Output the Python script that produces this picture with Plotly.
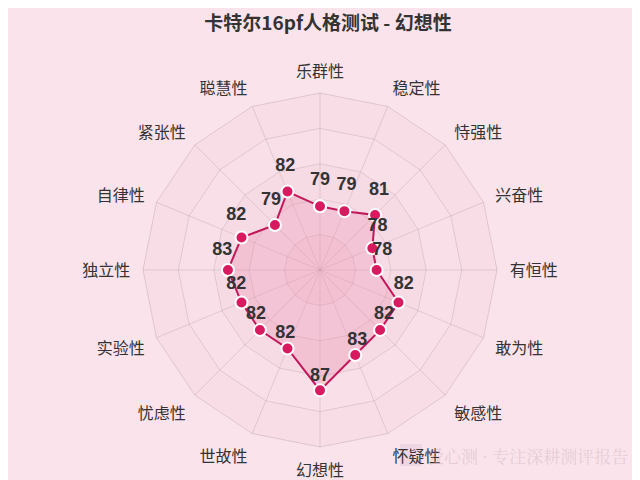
import plotly.graph_objects as go

categories = ["乐群性", "稳定性", "恃强性", "兴奋性", "有恒性", "敢为性", "敏感性", "怀疑性",
              "幻想性", "世故性", "忧虑性", "实验性", "独立性", "自律性", "紧张性", "聪慧性"]
values = [79, 79, 81, 78, 78, 82, 82, 83, 87, 82, 82, 82, 83, 82, 79, 82]
radial_range = [70, 95]
ring_values = [75, 80, 85, 90, 95]
title_text = "卡特尔16pf人格测试 - 幻想性"
watermark = "爱心测 · 专注深耕测评报告"

bg = "#fae3ea"
line_color = "#c2185b"
grid_color = "rgba(160,135,145,0.30)"
font_family = "Noto Sans CJK SC, Noto Sans, sans-serif"
label_lift = 0.8  # small radial push of the value labels, in axis units

fig = go.Figure()

theta_closed = categories + [categories[0]]

# alternating split-area bands (outermost first)
band_colors = ["rgba(235,175,198,0.10)", "rgba(255,255,255,0.08)"]
for i, rv in reversed(list(enumerate(ring_values))):
    fig.add_trace(go.Scatterpolar(
        r=[rv] * len(theta_closed), theta=theta_closed, mode="lines", line=dict(width=0),
        fill="toself", fillcolor=band_colors[i % 2], hoverinfo="skip", showlegend=False))

fig.add_trace(go.Scatterpolar(
    r=values + [values[0]],
    theta=theta_closed,
    mode="lines+markers",
    line=dict(color=line_color, width=2),
    marker=dict(size=12, color="#d81b60", line=dict(color="white", width=2)),
    fill="toself",
    fillcolor="rgba(228,100,145,0.20)",
    showlegend=False,
))

# value labels (invisible marker to lift the text above the point)
fig.add_trace(go.Scatterpolar(
    r=[v + label_lift for v in values], theta=categories,
    mode="markers+text",
    text=[str(v) for v in values],
    textposition="top center",
    textfont=dict(size=18, color="#333333", family="Liberation Sans, Arial, sans-serif", weight="bold"),
    marker=dict(size=16, color="rgba(0,0,0,0)"),
    hoverinfo="skip", showlegend=False, cliponaxis=False,
))

fig.update_layout(
    width=640, height=480,
    paper_bgcolor=bg, plot_bgcolor=bg,
    margin=dict(l=0, r=0, t=0, b=0),
    title=dict(text=title_text, x=0.5, xanchor="center", y=0.968, yref="container", yanchor="middle",
               font=dict(size=19, color="#333333", family=font_family, weight="bold")),
    font=dict(family=font_family),
    polar=dict(
        bgcolor=bg,
        domain=dict(x=[0.2109, 0.7641], y=[0.0854, 0.8229]),
        gridshape="linear",
        radialaxis=dict(range=radial_range, tickvals=ring_values, showticklabels=False,
                        ticks="", showline=False, gridcolor=grid_color, gridwidth=1),
        angularaxis=dict(direction="clockwise", rotation=90,
                         tickfont=dict(size=16, color="#333333", family=font_family),
                         ticks="outside", ticklen=9, tickcolor="rgba(0,0,0,0)",
                         showline=True, linecolor=grid_color, linewidth=1,
                         gridcolor=grid_color, gridwidth=1),
    ),
    shapes=[dict(type="rect", xref="paper", yref="paper", x0=392/640, x1=414/640,
                 y0=1 - 458/480, y1=1 - 436/480, line=dict(width=0),
                 fillcolor="rgba(215,190,215,0.35)", layer="below")],
    annotations=[dict(text=watermark, x=622/640, y=1 - 447/480, xref="paper", yref="paper",
                      xanchor="right", yanchor="middle", showarrow=False,
                      font=dict(size=17, color="rgba(205,175,190,0.45)",
                                family="Noto Serif CJK SC, Noto Sans CJK SC, serif"))],
)

fig.write_html("out.html")
